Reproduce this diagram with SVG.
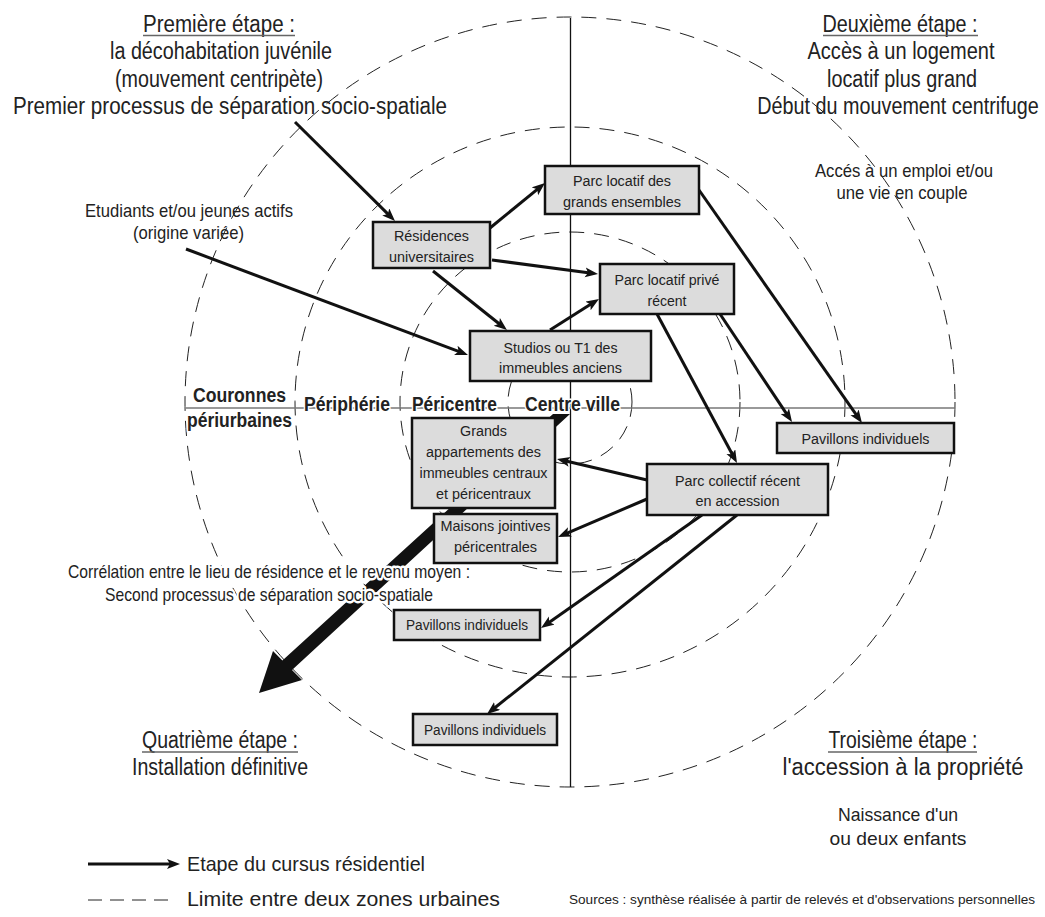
<svg xmlns="http://www.w3.org/2000/svg" width="1045" height="917" viewBox="0 0 1045 917">
<style>
 text { font-family: "Liberation Sans", Arial, sans-serif; fill: #222; }
 .h { font-size: 23px; text-anchor: middle; }
 .m { font-size: 19px; text-anchor: middle; }
 .b { font-size: 15.5px; text-anchor: middle; }
 .halo { stroke: #fff; stroke-width: 5px; paint-order: stroke; stroke-linejoin: round; }
 .lbl { font-size: 19.5px; font-weight: bold; text-anchor: middle; stroke: #fff; stroke-width: 3px; paint-order: stroke; stroke-linejoin: round; }
 .zone { fill: none; stroke: #222; stroke-width: 1; stroke-dasharray: 15 10; }
 .box rect { fill: #dcdcdc; stroke: #111; stroke-width: 2.5; }
 .arr { stroke: #111; stroke-width: 3; fill: none; marker-end: url(#ah); }
 .ul { stroke: #666; stroke-width: 1.3; }
</style>
<defs>
 <marker id="ah" markerUnits="userSpaceOnUse" markerWidth="14" markerHeight="12" refX="5" refY="5" orient="auto">
  <path d="M0,0 L13,5 L0,10 L3,5 z" fill="#111"/>
 </marker>
</defs>
<rect width="1045" height="917" fill="#fff"/>

<g id="zones">
 <circle class="zone" cx="570" cy="402" r="385"/>
 <circle class="zone" cx="570" cy="402" r="275"/>
 <circle class="zone" cx="570" cy="402" r="170"/>
 <circle class="zone" cx="570" cy="402" r="62"/>
 <line x1="570.5" y1="18" x2="570.5" y2="787" stroke="#111" stroke-width="1.3"/>
 <line x1="186" y1="408" x2="955" y2="408" stroke="#777" stroke-width="1.5"/>
</g>

<g id="big-arrow">
 <polygon points="553,414 282.4,660.4 273,651 259,693 302,680 292,670 570,414" fill="#111"/>
</g>

<g id="connectors">
 <line class="arr" x1="295" y1="122" x2="389.3" y2="215.4"/>
 <line class="arr" x1="186" y1="249" x2="460.5" y2="352.2"/>
 <line class="arr" x1="490" y1="228" x2="538.8" y2="188.1"/>
 <line class="arr" x1="492" y1="260" x2="590.1" y2="273"/>
 <line class="arr" x1="433" y1="271" x2="500.7" y2="325"/>
 <line class="arr" x1="550" y1="330" x2="592.2" y2="303.3"/>
 <line class="arr" x1="699" y1="190" x2="857.4" y2="416.4"/>
 <line class="arr" x1="720" y1="314" x2="787.6" y2="415.3"/>
 <line class="arr" x1="657" y1="314" x2="733.2" y2="456"/>
 <line class="arr" x1="647" y1="480" x2="564.8" y2="460.8"/>
 <line class="arr" x1="647" y1="499" x2="565.4" y2="533.9"/>
 <line class="arr" x1="702" y1="515" x2="547.6" y2="623.4"/>
 <line class="arr" x1="737" y1="515" x2="493.3" y2="709"/>
</g>

<g id="n-grands-ensembles" class="box">
 <rect x="545" y="166" width="154" height="48"/>
 <text class="b" x="622" y="186" textLength="98" lengthAdjust="spacingAndGlyphs">Parc locatif des</text>
 <text class="b" x="622" y="207" textLength="118" lengthAdjust="spacingAndGlyphs">grands ensembles</text>
</g>
<g id="n-residences" class="box">
 <rect x="373" y="222" width="117" height="46"/>
 <text class="b" x="431.5" y="241" textLength="75" lengthAdjust="spacingAndGlyphs">Résidences</text>
 <text class="b" x="431.5" y="262" textLength="85" lengthAdjust="spacingAndGlyphs">universitaires</text>
</g>
<g id="n-prive" class="box">
 <rect x="600" y="264" width="134" height="50"/>
 <text class="b" x="667" y="285" textLength="105" lengthAdjust="spacingAndGlyphs">Parc locatif privé</text>
 <text class="b" x="667" y="306" textLength="39" lengthAdjust="spacingAndGlyphs">récent</text>
</g>
<g id="n-studios" class="box">
 <rect x="470" y="331" width="181" height="50"/>
 <text class="b" x="560.5" y="353" textLength="114" lengthAdjust="spacingAndGlyphs">Studios ou T1 des</text>
 <text class="b" x="560.5" y="373" textLength="123" lengthAdjust="spacingAndGlyphs">immeubles anciens</text>
</g>
<g id="n-grands-appartements" class="box">
 <rect x="412" y="418" width="143" height="90"/>
 <text class="b" x="483.5" y="436" textLength="47" lengthAdjust="spacingAndGlyphs">Grands</text>
 <text class="b" x="483.5" y="457" textLength="115" lengthAdjust="spacingAndGlyphs">appartements des</text>
 <text class="b" x="483.5" y="478" textLength="128" lengthAdjust="spacingAndGlyphs">immeubles centraux</text>
 <text class="b" x="483.5" y="499" textLength="95" lengthAdjust="spacingAndGlyphs">et péricentraux</text>
</g>
<g id="n-maisons" class="box">
 <rect x="434" y="514" width="123" height="49"/>
 <text class="b" x="495.5" y="531" textLength="110" lengthAdjust="spacingAndGlyphs">Maisons jointives</text>
 <text class="b" x="495.5" y="552" textLength="83" lengthAdjust="spacingAndGlyphs">péricentrales</text>
</g>
<g id="n-pavillons-droite" class="box">
 <rect x="777" y="423" width="177" height="30"/>
 <text class="b" x="865.5" y="444" textLength="128" lengthAdjust="spacingAndGlyphs">Pavillons individuels</text>
</g>
<g id="n-parc-collectif" class="box">
 <rect x="647" y="464" width="181" height="51"/>
 <text class="b" x="737.5" y="486" textLength="125" lengthAdjust="spacingAndGlyphs">Parc collectif récent</text>
 <text class="b" x="737.5" y="506" textLength="84" lengthAdjust="spacingAndGlyphs">en accession</text>
</g>
<g id="n-pavillons-milieu" class="box">
 <rect x="394" y="610" width="146" height="30"/>
 <text class="b" x="467" y="630" textLength="122" lengthAdjust="spacingAndGlyphs">Pavillons individuels</text>
</g>
<g id="n-pavillons-bas" class="box">
 <rect x="413" y="714" width="144" height="31"/>
 <text class="b" x="485" y="735" textLength="122" lengthAdjust="spacingAndGlyphs">Pavillons individuels</text>
</g>

<g id="zone-labels">
 <text class="lbl" x="239.5" y="402" textLength="93" lengthAdjust="spacingAndGlyphs">Couronnes</text>
 <text class="lbl" x="239.5" y="427" textLength="105" lengthAdjust="spacingAndGlyphs">périurbaines</text>
 <text class="lbl" x="347" y="411" textLength="86" lengthAdjust="spacingAndGlyphs">Périphérie</text>
 <text class="lbl" x="454.5" y="411" textLength="85" lengthAdjust="spacingAndGlyphs">Péricentre</text>
 <text class="lbl" x="572.5" y="411" textLength="95" lengthAdjust="spacingAndGlyphs">Centre ville</text>
</g>

<g id="etape1">
 <text class="h" x="219" y="32" textLength="152" lengthAdjust="spacingAndGlyphs">Première étape :</text>
 <line class="ul" x1="143" y1="35.5" x2="295" y2="35.5"/>
 <text class="h" x="221" y="59" textLength="222" lengthAdjust="spacingAndGlyphs">la décohabitation juvénile</text>
 <text class="h" x="219" y="87" textLength="208" lengthAdjust="spacingAndGlyphs">(mouvement centripète)</text>
 <text class="h" x="230" y="114" textLength="434" lengthAdjust="spacingAndGlyphs">Premier processus de séparation socio-spatiale</text>
</g>
<g id="etape2">
 <text class="h" x="900" y="32" textLength="155" lengthAdjust="spacingAndGlyphs">Deuxième étape :</text>
 <line class="ul" x1="823" y1="35.5" x2="978" y2="35.5"/>
 <text class="h" x="901" y="59" textLength="187" lengthAdjust="spacingAndGlyphs">Accès à un logement</text>
 <text class="h" x="902" y="87" textLength="150" lengthAdjust="spacingAndGlyphs">locatif plus grand</text>
 <text class="h" x="0" y="0" transform="translate(898,114) scale(0.86,1)">Début du mouvement centrifuge</text>
 <text class="m" x="904" y="177" textLength="178" lengthAdjust="spacingAndGlyphs">Accés à un emploi et/ou</text>
 <text class="m" x="902" y="199" textLength="131" lengthAdjust="spacingAndGlyphs">une vie en couple</text>
</g>
<g id="etudiants">
 <text class="m" x="189" y="217" textLength="208" lengthAdjust="spacingAndGlyphs">Etudiants et/ou jeunes actifs</text>
 <text class="m" x="188.5" y="239" textLength="111" lengthAdjust="spacingAndGlyphs">(origine variée)</text>
</g>
<g id="correlation">
 <text class="m halo" x="269" y="578" textLength="402" lengthAdjust="spacingAndGlyphs">Corrélation entre le lieu de résidence et le revenu moyen :</text>
 <text class="m halo" x="269" y="601" textLength="328" lengthAdjust="spacingAndGlyphs">Second processus de séparation socio-spatiale</text>
</g>
<g id="etape4">
 <text class="h" x="220" y="748" textLength="156" lengthAdjust="spacingAndGlyphs">Quatrième étape :</text>
 <line class="ul" x1="142" y1="752" x2="298" y2="752"/>
 <text class="h" x="220" y="775" textLength="176" lengthAdjust="spacingAndGlyphs">Installation définitive</text>
</g>
<g id="etape3">
 <text class="h" x="903" y="748" textLength="149" lengthAdjust="spacingAndGlyphs">Troisième étape :</text>
 <line class="ul" x1="828" y1="752" x2="977" y2="752"/>
 <text class="h" x="903" y="775" textLength="241" lengthAdjust="spacingAndGlyphs">l'accession à la propriété</text>
 <text class="m" x="898" y="821" textLength="120" lengthAdjust="spacingAndGlyphs">Naissance d'un</text>
 <text class="m" x="898" y="845" textLength="137" lengthAdjust="spacingAndGlyphs">ou deux enfants</text>
</g>
<g id="legend">
 <line x1="88" y1="864" x2="172" y2="864" stroke="#111" stroke-width="3" marker-end="url(#ah)"/>
 <text x="187" y="871" font-size="21" textLength="238" lengthAdjust="spacingAndGlyphs">Etape du cursus résidentiel</text>
 <line x1="88" y1="900" x2="170" y2="900" stroke="#222" stroke-width="1" stroke-dasharray="14 8"/>
 <text x="187" y="906" font-size="21" textLength="313" lengthAdjust="spacingAndGlyphs">Limite entre deux zones urbaines</text>
 <text x="569" y="904" font-size="13.5" textLength="466" lengthAdjust="spacingAndGlyphs">Sources : synthèse réalisée à partir de relevés et d'observations personnelles</text>
</g>
</svg>
